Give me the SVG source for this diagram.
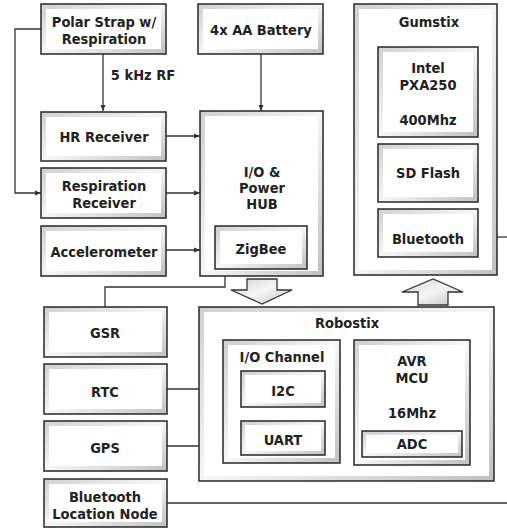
<svg xmlns="http://www.w3.org/2000/svg" width="507" height="529" viewBox="0 0 507 529">
<defs>
<linearGradient id="bev" x1="0" y1="0" x2="1" y2="1">
<stop offset="0" stop-color="#d0d0d0"/>
<stop offset="0.5" stop-color="#f6f6f6"/>
<stop offset="1" stop-color="#c0c0c0"/>
</linearGradient>
<marker id="ah" viewBox="0 0 6 6" refX="6" refY="3" markerWidth="6" markerHeight="6" markerUnits="userSpaceOnUse" orient="auto">
<path d="M0,0.5 L6,3 L0,5.5 Z" fill="#333"/>
</marker>
</defs>
<style>
.o{fill:url(#bev);stroke:#333;stroke-width:1.6}
.i{fill:#fff;stroke:none}
text{font-family:"DejaVu Sans Condensed","DejaVu Sans",sans-serif;font-stretch:condensed;font-weight:bold;font-size:14.5px;fill:#222;text-anchor:middle}
.c{fill:none;stroke:#333;stroke-width:1.3}
.ha{fill:url(#bev);stroke:#333;stroke-width:1.3}
</style>
<rect width="507" height="529" fill="#fff"/>

<g id="connectors">
<path class="c" d="M41,29 H15 V193 H41" marker-end="url(#ah)"/>
<path class="c" d="M103,54 V111" marker-end="url(#ah)"/>
<path class="c" d="M166,136 H200" marker-end="url(#ah)"/>
<path class="c" d="M166,193 H200" marker-end="url(#ah)"/>
<path class="c" d="M166,250 H200" marker-end="url(#ah)"/>
<path class="c" d="M261,54 V111" marker-end="url(#ah)"/>
<path class="c" d="M105,307 V287 H225 V270" marker-end="url(#ah)"/>
<path class="c" d="M507,237 H478" marker-end="url(#ah)"/>
<path class="c" d="M167,389 H241" marker-end="url(#ah)"/>
<path class="c" d="M167,446 H204 V438 H241" marker-end="url(#ah)"/>
<path class="c" d="M167,503 H507"/>
<path class="ha" d="M247,279 H277 V290 H292 L262,304 L231,290 H247 Z"/>
<path class="ha" d="M418,305 H448 V292 H463 L433,279 L402,292 H418 Z"/>
</g>

<g id="polar"><rect class="o" x="41" y="4" width="125" height="50"/><rect class="i" x="46" y="9" width="115" height="40"/>
<text x="104" y="27">Polar Strap w/</text><text x="104" y="44">Respiration</text></g>
<text x="143" y="80">5 kHz RF</text>

<g id="hr"><rect class="o" x="41" y="112" width="125" height="49"/><rect class="i" x="46" y="117" width="115" height="39"/>
<text x="104" y="142">HR Receiver</text></g>

<g id="resp"><rect class="o" x="41" y="168" width="125" height="50"/><rect class="i" x="46" y="173" width="115" height="40"/>
<text x="104" y="191">Respiration</text><text x="104" y="208">Receiver</text></g>

<g id="accel"><rect class="o" x="41" y="226" width="125" height="50"/><rect class="i" x="46" y="231" width="115" height="40"/>
<text x="104" y="257">Accelerometer</text></g>

<g id="gsr"><rect class="o" x="44" y="307" width="123" height="50"/><rect class="i" x="49" y="312" width="113" height="40"/>
<text x="105" y="338">GSR</text></g>

<g id="rtc"><rect class="o" x="44" y="364" width="123" height="50"/><rect class="i" x="49" y="369" width="113" height="40"/>
<text x="105" y="397">RTC</text></g>

<g id="gps"><rect class="o" x="44" y="421" width="123" height="50"/><rect class="i" x="49" y="426" width="113" height="40"/>
<text x="105" y="453">GPS</text></g>

<g id="btloc"><rect class="o" x="44" y="479" width="123" height="48"/><rect class="i" x="49" y="484" width="113" height="38"/>
<text x="105" y="502">Bluetooth</text><text x="105" y="519">Location Node</text></g>

<g id="battery"><rect class="o" x="198" y="4" width="125" height="50"/><rect class="i" x="203" y="9" width="115" height="40"/>
<text x="261" y="35">4x AA Battery</text></g>

<g id="hub"><rect class="o" x="200" y="111" width="123" height="165"/><rect class="i" x="205" y="116" width="113" height="155"/>
<text x="262" y="177">I/O &amp;</text><text x="262" y="193">Power</text><text x="262" y="209">HUB</text></g>

<g id="zigbee"><rect class="o" x="215" y="226" width="92" height="43"/><rect class="i" x="220" y="231" width="82" height="33"/>
<text x="261" y="254">ZigBee</text></g>

<g id="gumstix"><rect class="o" x="354" y="4" width="143" height="271"/><rect class="i" x="359" y="9" width="133" height="261"/>
<text x="429" y="27">Gumstix</text></g>

<g id="intel"><rect class="o" x="378" y="47" width="100" height="90"/><rect class="i" x="383" y="52" width="90" height="80"/>
<text x="428" y="73">Intel</text><text x="428" y="90">PXA250</text><text x="428" y="125">400Mhz</text></g>

<g id="sdflash"><rect class="o" x="378" y="144" width="100" height="58"/><rect class="i" x="383" y="149" width="90" height="48"/>
<text x="428" y="178">SD Flash</text></g>

<g id="bluetooth"><rect class="o" x="378" y="209" width="100" height="48"/><rect class="i" x="383" y="214" width="90" height="38"/>
<text x="428" y="244">Bluetooth</text></g>

<g id="robostix"><rect class="o" x="199" y="307" width="295" height="174"/><rect class="i" x="204" y="312" width="285" height="164"/>
<text x="347" y="328">Robostix</text></g>

<g id="iochannel"><rect class="o" x="223" y="340" width="117" height="123"/><rect class="i" x="228" y="345" width="107" height="113"/>
<text x="282" y="362">I/O Channel</text></g>

<g id="i2c"><rect class="o" x="241" y="371" width="84" height="36"/><rect class="i" x="245" y="375" width="76" height="28"/>
<text x="283" y="396">I2C</text></g>

<g id="uart"><rect class="o" x="241" y="421" width="84" height="34"/><rect class="i" x="245" y="425" width="76" height="26"/>
<text x="283" y="445">UART</text></g>

<g id="avr"><rect class="o" x="354" y="340" width="116" height="125"/><rect class="i" x="359" y="345" width="106" height="115"/>
<text x="412" y="366">AVR</text><text x="412" y="383">MCU</text><text x="412" y="418">16Mhz</text></g>

<g id="adc"><rect class="o" x="362" y="431" width="100" height="26"/><rect class="i" x="366" y="435" width="92" height="18"/>
<text x="412" y="449">ADC</text></g>
</svg>
